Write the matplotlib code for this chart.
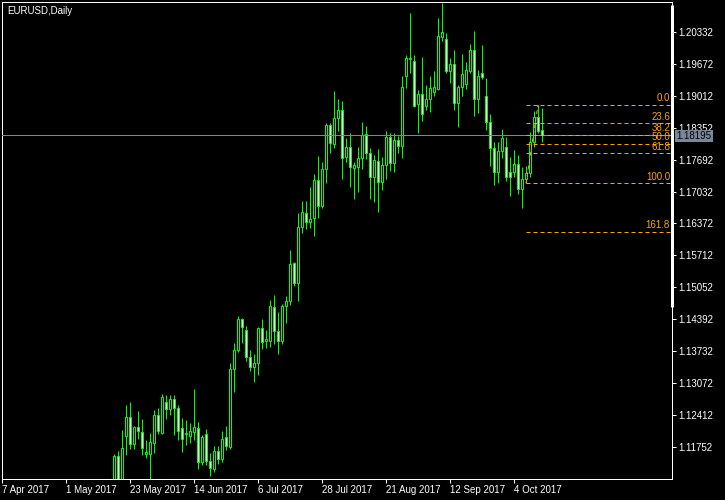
import numpy as np
import pandas as pd
import matplotlib
matplotlib.use("Agg")
import matplotlib.pyplot as plt
import matplotlib.transforms as mtransforms

plt.rcParams['font.family'] = ['Liberation Sans', 'DejaVu Sans']

# EURUSD daily bars, 17 May 2017 .. 13 Oct 2017
first_date = "2017-05-17"
axis_start = "2017-04-07"

opens = [1.1096, 1.1157, 1.1102, 1.1198, 1.1238, 1.1182, 1.1217, 1.1207, 1.1161, 1.1161,
         1.1184, 1.1242, 1.1205, 1.1269, 1.1254, 1.1275, 1.1256, 1.1215, 1.1203, 1.1198,
         1.1207, 1.1215, 1.1145, 1.1203, 1.1147, 1.1130, 1.1167, 1.1151, 1.1196, 1.1176,
         1.1337, 1.1376, 1.1440, 1.1417, 1.1362, 1.1341, 1.1349, 1.1421, 1.1395, 1.1395,
         1.1465, 1.1415, 1.1395, 1.1467, 1.1477, 1.1556, 1.1514, 1.1630, 1.1659, 1.1640,
         1.1649, 1.1727, 1.1673, 1.1750, 1.1841, 1.1801, 1.1855, 1.1872, 1.1774, 1.1795,
         1.1752, 1.1754, 1.1772, 1.1822, 1.1783, 1.1733, 1.1766, 1.1723, 1.1758, 1.1816,
         1.1762, 1.1810, 1.1797, 1.1942, 1.1977, 1.1973, 1.1884, 1.1905, 1.1880, 1.1894,
         1.1909, 1.1915, 1.2022, 1.2018, 1.1952, 1.1967, 1.1886, 1.1919, 1.1925, 1.1952,
         1.1995, 1.1894, 1.1948, 1.1900, 1.1847, 1.1793, 1.1744, 1.1787, 1.1795, 1.1744,
         1.1744, 1.1760, 1.1708, 1.1729, 1.1742, 1.1806, 1.1857, 1.1830]
highs = [1.1161, 1.1167, 1.1211, 1.1262, 1.1269, 1.1219, 1.1250, 1.1234, 1.1190, 1.1205,
         1.1252, 1.1256, 1.1285, 1.1283, 1.1283, 1.1283, 1.1262, 1.1236, 1.1232, 1.1225,
         1.1295, 1.1227, 1.1201, 1.1213, 1.1163, 1.1178, 1.1178, 1.1209, 1.1219, 1.1349,
         1.1390, 1.1446, 1.1442, 1.1426, 1.1376, 1.1368, 1.1424, 1.1440, 1.1417, 1.1479,
         1.1490, 1.1455, 1.1471, 1.1488, 1.1583, 1.1558, 1.1659, 1.1684, 1.1684, 1.1713,
         1.1739, 1.1777, 1.1764, 1.1845, 1.1845, 1.1911, 1.1894, 1.1890, 1.1814, 1.1824,
         1.1764, 1.1795, 1.1847, 1.1839, 1.1793, 1.1779, 1.1791, 1.1774, 1.1828, 1.1824,
         1.1824, 1.1818, 1.1942, 1.1985, 1.2072, 1.1985, 1.1913, 1.1981, 1.1923, 1.1942,
         1.1952, 1.2061, 1.2092, 1.2030, 1.1979, 1.1995, 1.1923, 1.1987, 1.1971, 1.2008,
         1.2035, 1.1954, 1.2006, 1.1938, 1.1863, 1.1806, 1.1806, 1.1832, 1.1816, 1.1774,
         1.1789, 1.1779, 1.1754, 1.1756, 1.1826, 1.1869, 1.1882, 1.1876]
lows = [1.1088, 1.1095, 1.1098, 1.1159, 1.1172, 1.1172, 1.1192, 1.1159, 1.1153, 1.1104,
        1.1163, 1.1203, 1.1203, 1.1234, 1.1242, 1.1201, 1.1190, 1.1166, 1.1180, 1.1184,
        1.1190, 1.1130, 1.1139, 1.1139, 1.1116, 1.1124, 1.1141, 1.1145, 1.1170, 1.1172,
        1.1289, 1.1372, 1.1390, 1.1353, 1.1333, 1.1310, 1.1324, 1.1378, 1.1380, 1.1382,
        1.1388, 1.1368, 1.1388, 1.1432, 1.1469, 1.1508, 1.1477, 1.1618, 1.1626, 1.1628,
        1.1611, 1.1649, 1.1669, 1.1721, 1.1783, 1.1793, 1.1828, 1.1729, 1.1764, 1.1713,
        1.1688, 1.1702, 1.1750, 1.1770, 1.1688, 1.1682, 1.1661, 1.1706, 1.1729, 1.1746,
        1.1744, 1.1783, 1.1772, 1.1917, 1.1948, 1.1878, 1.1824, 1.1849, 1.1872, 1.1867,
        1.1900, 1.1913, 1.2014, 1.1948, 1.1927, 1.1872, 1.1836, 1.1900, 1.1915, 1.1948,
        1.1859, 1.1865, 1.1936, 1.1830, 1.1756, 1.1717, 1.1721, 1.1772, 1.1725, 1.1694,
        1.1733, 1.1698, 1.1669, 1.1720, 1.1733, 1.1795, 1.1824, 1.1806]
closes = [1.1157, 1.1102, 1.1174, 1.1238, 1.1182, 1.1217, 1.1209, 1.1174, 1.1166, 1.1186,
          1.1242, 1.1209, 1.1279, 1.1254, 1.1275, 1.1256, 1.1209, 1.1192, 1.1205, 1.1209,
          1.1217, 1.1145, 1.1196, 1.1147, 1.1132, 1.1167, 1.1151, 1.1192, 1.1178, 1.1337,
          1.1376, 1.1440, 1.1424, 1.1362, 1.1341, 1.1349, 1.1421, 1.1393, 1.1399, 1.1467,
          1.1415, 1.1395, 1.1467, 1.1477, 1.1554, 1.1514, 1.1630, 1.1661, 1.1640, 1.1647,
          1.1727, 1.1673, 1.1750, 1.1841, 1.1803, 1.1855, 1.1872, 1.1772, 1.1795, 1.1754,
          1.1758, 1.1772, 1.1820, 1.1783, 1.1733, 1.1768, 1.1723, 1.1758, 1.1816, 1.1762,
          1.1810, 1.1797, 1.1919, 1.1979, 1.1979, 1.1880, 1.1905, 1.1863, 1.1894, 1.1917,
          1.1919, 1.2024, 1.2033, 1.1952, 1.1967, 1.1886, 1.1919, 1.1946, 1.1954, 1.1995,
          1.1894, 1.1942, 1.1940, 1.1847, 1.1793, 1.1744, 1.1787, 1.1814, 1.1733, 1.1733,
          1.1760, 1.1708, 1.1729, 1.1742, 1.1806, 1.1857, 1.1828, 1.18195]

bid = 1.18195

# price scale labels on the right
price_ticks = [1.20332, 1.19672, 1.19012, 1.18352, 1.17692, 1.17032, 1.16372,
               1.15712, 1.15052, 1.14392, 1.13732, 1.13072, 1.12412, 1.11752]
date_labels = ["7 Apr 2017", "1 May 2017", "23 May 2017", "14 Jun 2017", "6 Jul 2017",
               "28 Jul 2017", "21 Aug 2017", "12 Sep 2017", "4 Oct 2017"]

# Fibonacci retracement (drawn from the 9 Oct low to the 12 Oct high)
fib_low_date, fib_low = "2017-10-09", 1.17202
fib_high_date, fib_high = "2017-10-12", 1.18819
fib_levels = [0.0, 23.6, 38.2, 50.0, 61.8, 100.0, 161.8]

# bar positions = trading days since the left edge of the chart
start = np.datetime64(axis_start)
dates = pd.bdate_range(first_date, periods=len(opens))
pos = np.busday_count(start, dates.values.astype('datetime64[D]'))
label_dates = pd.bdate_range(axis_start, periods=len(date_labels) * 16, freq='B')[::16]
label_pos = np.busday_count(start, label_dates.values.astype('datetime64[D]'))
fib_x0 = np.busday_count(start, np.datetime64(fib_low_date))
fib_x1 = np.busday_count(start, np.datetime64(fib_high_date))

o = np.array(opens)
h = np.array(highs)
l = np.array(lows)
c = np.array(closes)

px = 72 / 100.0  # one pixel in points
green = '#00ff00'
orange = '#ffa500'
slate = '#778899'

fig = plt.figure(figsize=(7.25, 5.0), dpi=100, facecolor='black')
ax = fig.add_axes([2 / 725, 21 / 500, 670 / 725, 477 / 500])
ax.set_facecolor('black')

# candles: wicks, then bodies (bull = black body, bear = white body)
ax.vlines(pos, l, h, color=green, linewidth=px, zorder=2)
bull = c >= o
body_bottom = np.minimum(o, c)
body_height = np.maximum(np.abs(c - o), 0.00002)
ax.bar(pos, body_height, bottom=body_bottom, width=0.5,
       color=np.where(bull, 'black', 'white'), edgecolor=green, linewidth=px, zorder=3)

# bid line
ax.axhline(bid, color=slate, linewidth=px, zorder=4)

# fibonacci
xmax = 167.5
for lev in fib_levels:
    price = fib_high - lev / 100.0 * (fib_high - fib_low)
    ax.hlines(price, fib_x0, xmax, colors=orange, linewidth=px,
              linestyles=(0, (4, 3)), zorder=5)
    ax.text(xmax - 0.5, price + 0.00035, f"{lev:.1f}", color=orange, fontsize=7,
            ha='right', va='bottom', zorder=6)
ax.plot([fib_x0, fib_x1], [fib_low, fib_high], color=orange, linewidth=px,
        linestyle=(0, (4, 3)), zorder=5)

ax.set_xlim(0, xmax)
ax.set_ylim(1.11097, 1.20945)

for s in ax.spines.values():
    s.set_color('white')
    s.set_linewidth(px)

ax.yaxis.tick_right()
ax.set_yticks(price_ticks)
ax.set_yticklabels([f"{v:.5f}" for v in price_ticks])
ax.set_xticks(label_pos)
ax.set_xticklabels(date_labels)
for lab in ax.get_xticklabels():
    lab.set_ha('left')
ax.tick_params(axis='both', colors='white', labelcolor='white', labelsize=7,
               length=4 * px, width=px, pad=2)
ax.tick_params(axis='x', pad=1.5)

# bid price box on the scale (figure level so it sits above the tick labels)
trans = mtransforms.blended_transform_factory(ax.transAxes, ax.transData)
fig.text(1.0 + 4.5 / 670, bid - 0.0001, f"{bid:.5f}", transform=trans, color='black',
         fontsize=7, ha='left', va='center', zorder=7,
         bbox=dict(boxstyle='square,pad=0.12', fc=slate, ec='none'))

# thick strip on the right border
ax.plot([1.0, 1.0], [1.2088, 1.14648], transform=trans, color='white',
        linewidth=3 * px, clip_on=False, solid_capstyle='butt', zorder=6)

fig.text(7 / 725, 1 - 10.5 / 500, "EURUSD,Daily", color='white', fontsize=7,
         ha='left', va='center')

fig.savefig("out.png", dpi=100, facecolor='black')
